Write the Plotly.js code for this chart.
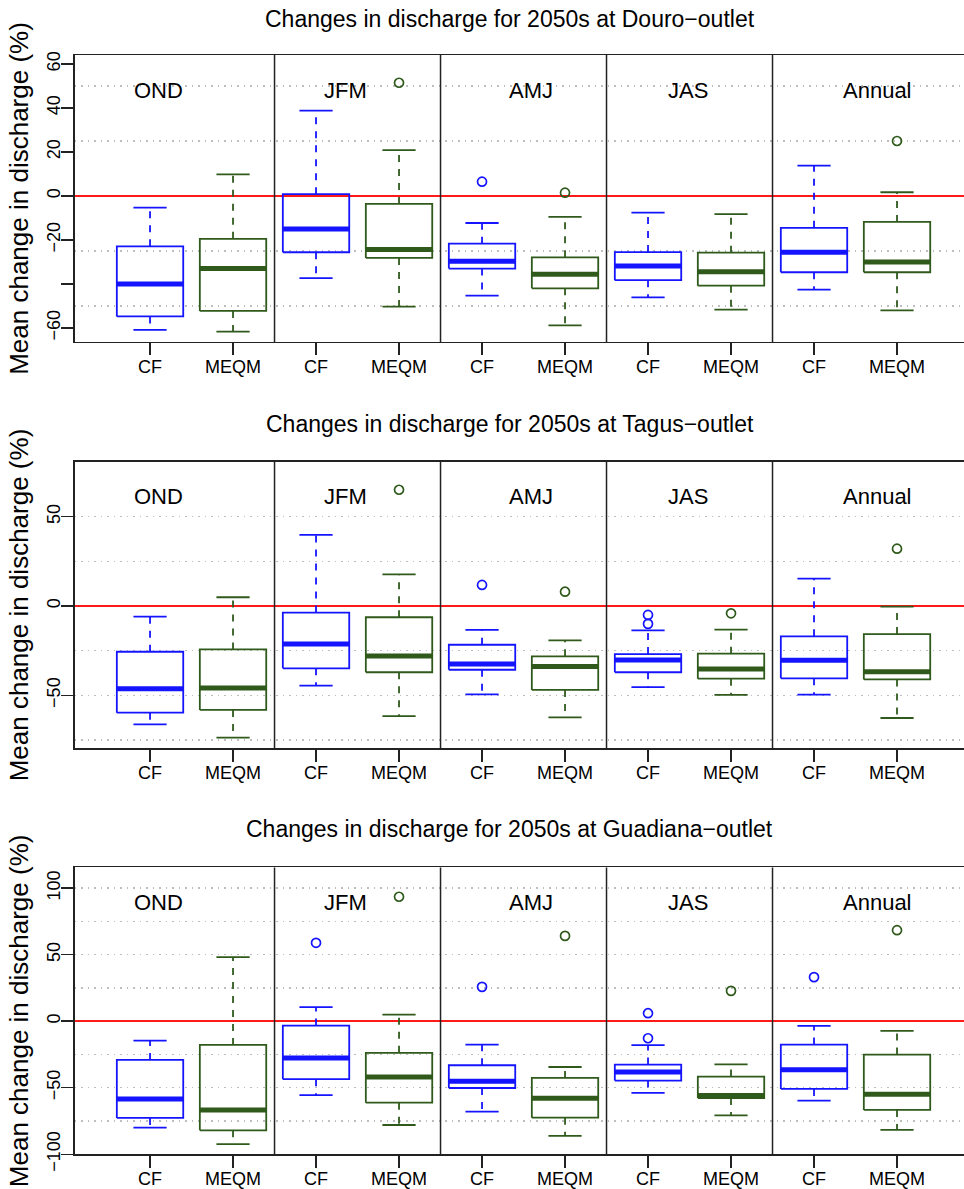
<!DOCTYPE html>
<html>
<head>
<meta charset="utf-8">
<script src="https://cdn.plot.ly/plotly-3.0.1.min.js"></script>
<style>html,body{margin:0;padding:0;background:#fff}#chart{width:964px;height:1189px}</style>
</head>
<body>
<div id="chart"></div>
<script>
// ---------------- DATA ----------------
const seasons = ['OND', 'JFM', 'AMJ', 'JAS', 'Annual'];
const methods = ['CF', 'MEQM'];
const panelTitles = [
  'Changes in discharge for 2050s at Douro\u2212outlet',
  'Changes in discharge for 2050s at Tagus\u2212outlet',
  'Changes in discharge for 2050s at Guadiana\u2212outlet'
];
// each row: [lower whisker, Q1, median, Q3, upper whisker] per season
const douroCF = [
  [-60.9, -54.8, -40.0, -22.9, -5.3],
  [-37.4, -25.6, -15.0, 0.8, 38.8],
  [-45.3, -33.0, -29.7, -21.7, -12.3],
  [-46.1, -38.3, -31.8, -25.5, -7.6],
  [-42.6, -34.7, -25.6, -14.5, 13.8]
];
const douroCFOut = [[], [], [6.5], [], []];
const douroMEQM = [
  [-61.7, -52.3, -33.0, -19.5, 9.8],
  [-50.3, -28.2, -24.4, -3.6, 20.9],
  [-58.9, -42.0, -35.6, -27.9, -9.5],
  [-51.7, -40.8, -34.5, -25.8, -8.3],
  [-52.0, -34.7, -30.0, -11.8, 1.7]
];
const douroMEQMOut = [[], [51.5], [1.5], [], [25.0]];

const tagusCF = [
  [-66.3, -59.7, -46.3, -25.6, -6.0],
  [-44.6, -34.9, -21.3, -3.7, 39.8],
  [-49.5, -35.7, -32.5, -21.7, -13.4],
  [-45.4, -37.1, -30.2, -26.9, -13.6],
  [-49.6, -40.5, -30.4, -17.0, 15.3]
];
const tagusCFOut = [[], [], [11.8], [-5.0, -10.0], []];
const tagusMEQM = [
  [-73.7, -58.2, -45.9, -24.3, 4.9],
  [-61.6, -37.1, -28.0, -6.3, 17.7],
  [-62.3, -47.0, -33.8, -28.2, -19.2],
  [-49.8, -40.7, -35.3, -26.7, -13.2],
  [-62.7, -41.1, -36.8, -15.7, -0.4]
];
const tagusMEQMOut = [[], [65.1], [8.0], [-4.1], [32.1]];

const guadianaCF = [
  [-80.0, -72.7, -58.4, -29.1, -14.6],
  [-55.6, -43.6, -27.6, -3.3, 10.5],
  [-68.0, -50.2, -45.1, -33.1, -17.6],
  [-53.9, -44.6, -38.1, -32.6, -18.0],
  [-59.7, -50.9, -36.4, -17.6, -3.5]
];
const guadianaCFOut = [[], [58.9], [25.8], [6.0, -12.8], [33.1]];
const guadianaMEQM = [
  [-92.3, -82.0, -66.7, -17.8, 48.1],
  [-78.0, -61.2, -41.9, -23.8, 5.0],
  [-86.2, -72.5, -57.9, -42.6, -34.4],
  [-70.7, -57.7, -55.9, -41.6, -32.4],
  [-81.7, -66.7, -54.9, -25.1, -7.3]
];
const guadianaMEQMOut = [[], [93.5], [64.1], [22.8], [68.4]];

// y-axis ticks
const yTickVals1 = [-60, -40, -20, 0, 20, 40, 60];
const yTickText1 = ['\u221260', '', '\u221220', '0', '20', '40', '60'];
const yTickVals2 = [-50, 0, 50];
const yTickText2 = ['\u221250', '0', '50'];
const yTickVals3 = [-100, -50, 0, 50, 100];
const yTickText3 = ['\u2212100', '\u221250', '0', '50', '100'];
const gridVals1 = [-50, -25, 25, 50];
const gridVals2 = [-75, -50, -25, 25, 50];
const gridVals3 = [-75, -50, -25, 25, 50, 75, 100];

// ---------------- STYLE / LAYOUT ----------------
const FONT = 'Liberation Sans, Arial, Helvetica, sans-serif';
const colors = ['#1414ff', '#2f5a1c'];
const halfBox = 0.4, halfCap = 0.2;

const panels = [
  {stats: [douroCF, douroMEQM], outs: [douroCFOut, douroMEQMOut], range: [-66.4, 64.1],
   tv: yTickVals1, tt: yTickText1, grid: gridVals1, dom: [0.7124, 0.9537], titleY: 0.9838},
  {stats: [tagusCF, tagusMEQM], outs: [tagusCFOut, tagusMEQMOut], range: [-79.7, 80.8],
   tv: yTickVals2, tt: yTickText2, grid: gridVals2, dom: [0.3706, 0.6117], titleY: 0.6434},
  {stats: [guadianaCF, guadianaMEQM], outs: [guadianaCFOut, guadianaMEQMOut], range: [-100, 115.5],
   tv: yTickVals3, tt: yTickText3, grid: gridVals3, dom: [0.0292, 0.2704], titleY: 0.3028}
];
const seasonLabelX = [1.102, 3.359, 5.588, 7.482, 9.765];

const traces = [];
const layout = {
  width: 964, height: 1189,
  margin: {l: 0, r: 0, t: 0, b: 0},
  paper_bgcolor: '#fff', plot_bgcolor: '#fff',
  showlegend: false,
  font: {family: FONT, color: '#000'},
  shapes: [], annotations: []
};

const tickPos = [];
const tickText = [];
seasons.forEach((s, i) => methods.forEach((m, j) => { tickPos.push(2 * i + 1 + j); tickText.push(m); }));

panels.forEach((pn, k) => {
  const xa = k === 0 ? 'x' : 'x' + (k + 1);
  const ya = k === 0 ? 'y' : 'y' + (k + 1);
  const xkey = k === 0 ? 'xaxis' : 'xaxis' + (k + 1);
  const ykey = k === 0 ? 'yaxis' : 'yaxis' + (k + 1);

  pn.stats.forEach((stats, j) => {
    const col = colors[j];
    const bx = [], by = [], mx = [], my = [], wx = [], wy = [], cx = [], cy = [], ox = [], oy = [];
    stats.forEach((st, i) => {
      const p = 2 * i + 1 + j;
      const [lo, q1, md, q3, hi] = st;
      bx.push(p - halfBox, p + halfBox, p + halfBox, p - halfBox, p - halfBox, null);
      by.push(q1, q1, q3, q3, q1, null);
      mx.push(p - halfBox, p + halfBox, null);
      my.push(md, md, null);
      wx.push(p, p, null, p, p, null);
      wy.push(q3, hi, null, q1, lo, null);
      cx.push(p - halfCap, p + halfCap, null, p - halfCap, p + halfCap, null);
      cy.push(hi, hi, null, lo, lo, null);
      pn.outs[j][i].forEach(v => { ox.push(p); oy.push(v); });
    });
    const common = {type: 'scatter', xaxis: xa, yaxis: ya, hoverinfo: 'skip', name: methods[j]};
    traces.push(Object.assign({}, common, {x: wx, y: wy, mode: 'lines', line: {color: col, width: 1.8, dash: '7px,7px'}}));
    traces.push(Object.assign({}, common, {x: cx, y: cy, mode: 'lines', line: {color: col, width: 1.8}}));
    traces.push(Object.assign({}, common, {x: bx, y: by, mode: 'lines', line: {color: col, width: 1.8}, fill: 'none'}));
    traces.push(Object.assign({}, common, {x: mx, y: my, mode: 'lines', line: {color: col, width: 5}}));
    traces.push(Object.assign({}, common, {x: ox, y: oy, mode: 'markers',
      marker: {symbol: 'circle-open', size: 9, color: col, line: {width: 1.7, color: col}}}));
  });

  layout[xkey] = {
    domain: [0.0778, 1], range: [0.096, 10.807], anchor: ya,
    tickmode: 'array', tickvals: tickPos, ticktext: tickText,
    ticks: 'outside', ticklen: 12, tickwidth: 1.5, tickcolor: '#222',
    ticklabelstandoff: -4,
    tickfont: {size: 18, family: FONT, color: '#000'},
    showline: true, mirror: true, linecolor: '#222', linewidth: 1.5,
    showgrid: false, zeroline: false, fixedrange: true
  };
  layout[ykey] = {
    domain: pn.dom, range: pn.range, anchor: xa,
    tickmode: 'array', tickvals: pn.tv, ticktext: pn.tt,
    ticks: 'outside', ticklen: 12, tickwidth: 1.5, tickcolor: '#222', tickangle: -90,
    ticklabelstandoff: -6,
    tickfont: {size: 18, family: FONT, color: '#000'},
    showline: true, linecolor: '#222', linewidth: 1.5,
    showgrid: false,
    zeroline: true, zerolinecolor: '#ff1a1a', zerolinewidth: 1.5,
    minor: {tickmode: 'array', tickvals: pn.grid, ticks: '', showgrid: true, gridcolor: '#bdbdbd', gridwidth: 1.5, griddash: '1.5px,5px'},
    title: {text: 'Mean change in discharge (%)', font: {size: 26, family: FONT, color: '#000'}, standoff: 8},
    fixedrange: true
  };

  // vertical separators between season groups
  for (let g = 1; g < seasons.length; g++) {
    layout.shapes.push({type: 'line', xref: xa, yref: ya + ' domain', x0: 2 * g + 0.5, x1: 2 * g + 0.5, y0: 0, y1: 1,
      line: {color: '#222', width: 1.5}});
  }
  // season labels
  seasons.forEach((s, i) => {
    layout.annotations.push({text: s, xref: xa, yref: ya + ' domain', x: seasonLabelX[i], y: 0.878,
      xanchor: 'center', yanchor: 'middle', showarrow: false, font: {size: 22, family: FONT, color: '#000'}});
  });
  // panel title
  layout.annotations.push({text: panelTitles[k], xref: 'paper', yref: 'paper', x: 0.529, y: pn.titleY,
    xanchor: 'center', yanchor: 'middle', showarrow: false, font: {size: 23, family: FONT, color: '#000'}});
});

Plotly.newPlot('chart', traces, layout, {staticPlot: true, displayModeBar: false});
</script>
</body>
</html>
